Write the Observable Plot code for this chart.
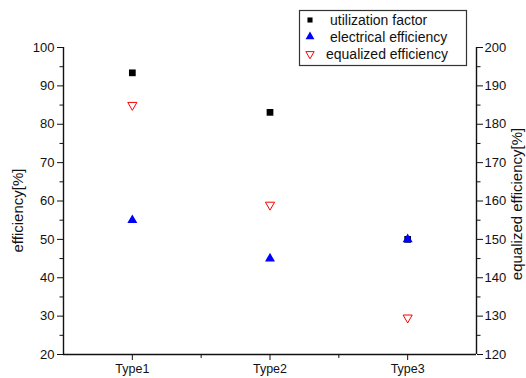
<!DOCTYPE html>
<html><head><meta charset="utf-8">
<script src="https://cdn.jsdelivr.net/npm/d3@7"></script>
<script src="https://cdn.jsdelivr.net/npm/@observablehq/plot@0.6"></script>
<style>body{margin:0;background:#fff;} svg{display:block}</style>
</head><body><div id="chart"></div>
<script>
const categories = ["Type1", "Type2", "Type3"];
const utilization = [93.4, 83.1, 50];
const electrical = [55, 45, 50];
const equalized = [185, 159, 129.6];
const leftTicks = [20, 30, 40, 50, 60, 70, 80, 90, 100];
const leftMinor = [25, 35, 45, 55, 65, 75, 85, 95];
const rightTicks = [120, 130, 140, 150, 160, 170, 180, 190, 200];
const rightOffset = 100; // right axis value = left axis value + 100
const seriesNames = ["utilization factor", "electrical efficiency", "equalized efficiency"];
const leftLabel = "efficiency[%]";
const rightLabel = "equalized efficiency[%]";

const rows = categories.map((c, i) => ({cat: c, pos: i + 1, util: utilization[i], elec: electrical[i], eq: equalized[i]}));
const font = "'Liberation Sans', Arial, sans-serif";
const axisStroke = "#111";

const chart = Plot.plot({
  width: 526, height: 378,
  marginLeft: 63, marginRight: 50, marginTop: 47, marginBottom: 24,
  style: {fontFamily: font, background: "#fff", color: "#111"},
  x: {domain: [0.5, 3.5], axis: null},
  y: {domain: [20, 100], axis: null},
  marks: [
    Plot.axisY(leftTicks, {anchor: "left", tickSize: 6, tickPadding: 3, fontSize: 13, label: null, stroke: axisStroke}),
    Plot.axisY(leftMinor, {anchor: "left", tickSize: 3.5, tickFormat: () => "", label: null, stroke: axisStroke}),
    Plot.axisY(rightTicks.map(t => t - rightOffset), {anchor: "right", tickSize: 6, tickPadding: 2, fontSize: 13, tickFormat: d => String(d + rightOffset), label: null, stroke: axisStroke}),
    Plot.axisY(leftMinor, {anchor: "right", tickSize: 3.5, tickFormat: () => "", label: null, stroke: axisStroke}),
    Plot.axisX([1, 2, 3], {anchor: "bottom", tickSize: 6, tickPadding: 4, fontSize: 12.5, tickFormat: d => categories[d - 1], label: null, stroke: axisStroke}),
    Plot.axisX([1.5, 2.5], {anchor: "bottom", tickSize: 4, tickFormat: () => "", label: null, stroke: axisStroke}),
    Plot.ruleX([0.5, 3.5], {stroke: axisStroke, strokeWidth: 1.4}),
    Plot.ruleY([20], {stroke: axisStroke, strokeWidth: 1.4}),
    Plot.dot(rows, {x: "pos", y: "util", symbol: "square", r: 3.8, fill: "#000"}),
    Plot.dot(rows, {x: "pos", y: "elec", symbol: "triangle", r: 3.7, fill: "#0000ff"}),
    Plot.dot(rows, {x: "pos", y: d => d.eq - rightOffset, symbol: "triangle", rotate: 180, r: 3.4, fill: "#fff", stroke: "#ff0000", strokeWidth: 1})
  ]
});

const svg = d3.select(chart);
// axis titles
svg.append("text").attr("transform", "translate(23,210.5) rotate(-90)")
  .attr("text-anchor", "middle").attr("font-family", font).attr("font-size", 15).attr("fill", "#111").text(leftLabel);
svg.append("text").attr("transform", "translate(522,204) rotate(-90)")
  .attr("text-anchor", "middle").attr("font-family", font).attr("font-size", 15).attr("fill", "#111").text(rightLabel);

// legend
const lg = svg.append("g").attr("text-anchor", "start");
lg.append("rect").attr("x", 299.5).attr("y", 10.5).attr("width", 167).attr("height", 55)
  .attr("fill", "#fff").attr("stroke", "#333").attr("stroke-width", 1.2);
const legendSym = [
  {sym: d3.symbolSquare, size: 26, fill: "#000", stroke: "none", rot: 0, tx: 330},
  {sym: d3.symbolTriangle, size: 34, fill: "#0000ff", stroke: "none", rot: 0, tx: 330},
  {sym: d3.symbolTriangle, size: 30, fill: "#fff", stroke: "#ff0000", rot: 180, tx: 326}
];
const rowY = [20, 36.7, 54];
seriesNames.forEach((name, i) => {
  const s = legendSym[i];
  lg.append("path").attr("d", d3.symbol(s.sym, s.size)())
    .attr("transform", `translate(310,${rowY[i]}) rotate(${s.rot})`)
    .attr("fill", s.fill).attr("stroke", s.stroke).attr("stroke-width", 1);
  lg.append("text").attr("x", s.tx).attr("y", rowY[i]).attr("dy", "0.35em").attr("text-anchor", "start")
    .attr("font-family", font).attr("font-size", 14).attr("fill", "#111").text(name);
});

document.getElementById("chart").appendChild(chart);
</script></body></html>
